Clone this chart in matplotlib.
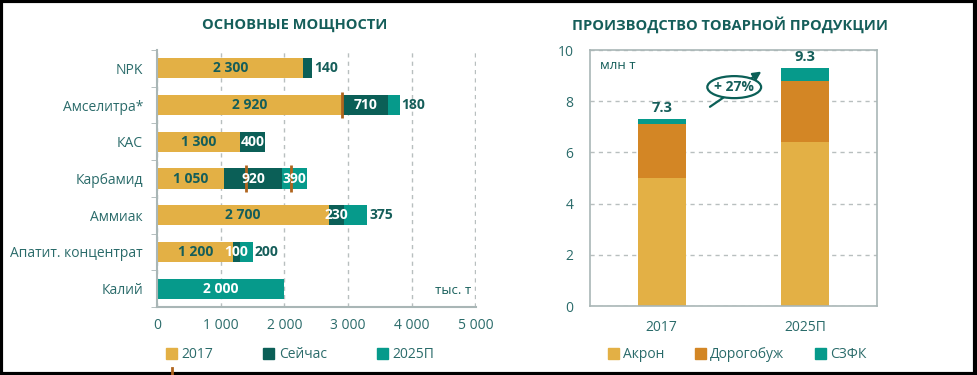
import numpy as np
import matplotlib.pyplot as plt
from matplotlib.patches import Ellipse, Patch, Rectangle
from matplotlib.lines import Line2D

plt.rcParams['font.family'] = ['Open Sans', 'DejaVu Sans']

# --- данные: основные мощности, тыс. т ---
products = ["NPK", "Амселитра*", "КАС", "Карбамид", "Аммиак",
            "Апатит. концентрат", "Калий"]
cap_2017 = [2300, 2920, 1300, 1050, 2700, 1200, 0]
cap_now = [140, 710, 400, 920, 230, 100, 0]
cap_2025 = [0, 180, 0, 390, 375, 200, 2000]
cap_ticks = [0, 1000, 2000, 3000, 4000, 5000]
# строки, у которых подпись последнего отрезка стоит снаружи
outside_rows = ["NPK", "Амселитра*", "Аммиак", "Апатит. концентрат"]
# коричневые засечки на барах
markers = [("Амселитра*", 2900), ("Карбамид", 1400), ("Карбамид", 2100)]

# --- данные: производство товарной продукции, млн т ---
years = ["2017", "2025П"]
akron = [5.0, 6.4]
dorogobuzh = [2.1, 2.4]
szfk = [0.2, 0.5]
totals = ["7.3", "9.3"]
growth = "+ 27%"

GOLD = "#E3B045"
DARK = "#0B5F57"
TEAL = "#069A8B"
ORANGE = "#D38625"
BROWN = "#B0651E"
TXT = "#155E5A"
TICK = "#2A6B6A"
GRID = "#B8BFBF"
SPINE = "#A9B6B6"


def fmt(v):
    return f"{v:,}".replace(",", " ")


fig = plt.figure(figsize=(9.78, 3.75), dpi=100)

# ===================== левый график =====================
ax1 = fig.add_axes([157 / 978, 68 / 375, 319 / 978, 257 / 375])
y = np.arange(len(products))
h = 0.55
a = np.array(cap_2017)
b = np.array(cap_now)
c = np.array(cap_2025)
ax1.barh(y, a, height=h, color=GOLD, zorder=2)
ax1.barh(y, b, left=a, height=h, color=DARK, zorder=2)
ax1.barh(y, c, left=a + b, height=h, color=TEAL, zorder=2)

for i, name in enumerate(products):
    segs = [(a[i], 0, TXT), (b[i], a[i], "white"), (c[i], a[i] + b[i], "white")]
    nz = [k for k, s in enumerate(segs) if s[0] > 0]
    last = nz[-1]
    for k in nz:
        w, left, col = segs[k]
        if k == last and k > 0 and name in outside_rows:
            ax1.text(a[i] + b[i] + c[i] + 25, i, fmt(w), ha="left", va="center",
                     color=TXT, fontsize=10, fontweight="bold", zorder=4)
        else:
            ax1.text(left + w / 2, i, fmt(w), ha="center", va="center",
                     color=col, fontsize=10, fontweight="bold", zorder=4)

for name, xv in markers:
    i = products.index(name)
    ax1.plot([xv, xv], [i - h / 2 - 0.08, i + h / 2 + 0.08], color=BROWN,
             lw=2, zorder=3, solid_capstyle="butt")

ax1.set_xlim(0, 5010)
ax1.set_ylim(len(products) - 0.5, -0.5)
ax1.set_xticks(cap_ticks)
ax1.set_xticklabels([fmt(v) for v in cap_ticks], color=TICK, fontsize=10)
ax1.set_yticks(y)
ax1.set_yticklabels(products, color=TICK, fontsize=10)
ax1.set_yticks(np.arange(-0.5, len(products)), minor=True)
ax1.tick_params(axis="y", which="major", length=0, pad=10)
ax1.tick_params(axis="y", which="minor", length=4, color=SPINE)
ax1.tick_params(axis="x", length=0, pad=8)
ax1.xaxis.grid(True, ls=(0, (3, 3)), color=GRID, lw=1, zorder=0)
ax1.set_axisbelow(True)
ax1.spines["top"].set_visible(False)
ax1.spines["right"].set_visible(False)
for s in ["left", "bottom"]:
    ax1.spines[s].set_color(SPINE)
    ax1.spines[s].set_linewidth(1.5)
ax1.text(0.985, 0.04, "тыс. т", transform=ax1.transAxes, ha="right",
         va="bottom", color=TXT, fontsize=9.5)

fig.text(295 / 978, 1 - 25 / 375, "ОСНОВНЫЕ МОЩНОСТИ", ha="center",
         va="center", color=TXT, fontsize=10.5, fontweight="bold")

h1 = [Patch(color=GOLD, label="2017"), Patch(color=DARK, label="Сейчас"),
      Patch(color=TEAL, label="2025П")]
leg1 = fig.legend(handles=h1, loc="center", bbox_to_anchor=(300 / 978, 20 / 375),
                  ncol=3, frameon=False, fontsize=10, handlelength=0.8,
                  handleheight=0.8, handletextpad=0.3, columnspacing=3.6)
for t in leg1.get_texts():
    t.set_color(TICK)

# ===================== правый график =====================
ax2 = fig.add_axes([590 / 978, 69 / 375, 287 / 978, 256 / 375])
x = np.arange(len(years))
w = 0.335
ak = np.array(akron)
dg = np.array(dorogobuzh)
sz = np.array(szfk)
ax2.bar(x, ak, width=w, color=GOLD, zorder=2)
ax2.bar(x, dg, bottom=ak, width=w, color=ORANGE, zorder=2)
ax2.bar(x, sz, bottom=ak + dg, width=w, color=TEAL, zorder=2)
for i in range(len(years)):
    ax2.text(x[i], ak[i] + dg[i] + sz[i] + 0.15, totals[i], ha="center",
             va="bottom", color=TXT, fontsize=10.5, fontweight="bold")

ax2.set_xlim(-0.5, 1.5)
ax2.set_ylim(0, 10)
ax2.set_xticks(x)
ax2.set_xticklabels(years, color=TICK, fontsize=10)
ax2.set_yticks([0, 2, 4, 6, 8, 10])
ax2.set_yticklabels(["0", "2", "4", "6", "8", "10"], color=TICK, fontsize=10)
ax2.tick_params(length=0)
ax2.tick_params(axis="x", pad=10)
ax2.tick_params(axis="y", pad=12)
ax2.yaxis.grid(True, ls=(0, (3, 3)), color=GRID, lw=1, zorder=0)
ax2.set_axisbelow(True)
for s in ax2.spines.values():
    s.set_color(SPINE)
    s.set_linewidth(1.2)
ax2.text(0.035, 0.965, "млн т", transform=ax2.transAxes, ha="left", va="top",
         color=TXT, fontsize=9.5)

# стрелка роста с эллипсом
ax2.annotate("", xy=(0.71, 9.22), xytext=(0.32, 7.72),
             arrowprops=dict(arrowstyle="-|>", color=DARK, lw=1.6,
                             mutation_scale=12), zorder=3)
ax2.add_patch(Ellipse((0.505, 8.55), 0.375, 0.86, facecolor="white",
                      edgecolor=DARK, lw=1.6, zorder=4))
ax2.text(0.505, 8.55, growth, ha="center", va="center", color=TXT,
         fontsize=10, fontweight="bold", zorder=5)

fig.text(730 / 978, 1 - 25 / 375, "ПРОИЗВОДСТВО ТОВАРНОЙ ПРОДУКЦИИ",
         ha="center", va="center", color=TXT, fontsize=10.5, fontweight="bold")

h2 = [Patch(color=GOLD, label="Акрон"), Patch(color=ORANGE, label="Дорогобуж"),
      Patch(color=TEAL, label="СЗФК")]
leg2 = fig.legend(handles=h2, loc="center", bbox_to_anchor=(737 / 978, 20 / 375),
                  ncol=3, frameon=False, fontsize=10, handlelength=0.8,
                  handleheight=0.8, handletextpad=0.3, columnspacing=2.2)
for t in leg2.get_texts():
    t.set_color(TICK)

# мелкая засечка под легендой и рамка
fig.add_artist(Line2D([172 / 978, 172 / 978], [0, 7 / 375], color=BROWN, lw=2))
fig.add_artist(Rectangle((0.001, 0.003), 0.996, 0.994, fill=False,
                         edgecolor="black", lw=3, transform=fig.transFigure))

fig.savefig("out.png", dpi=100)
